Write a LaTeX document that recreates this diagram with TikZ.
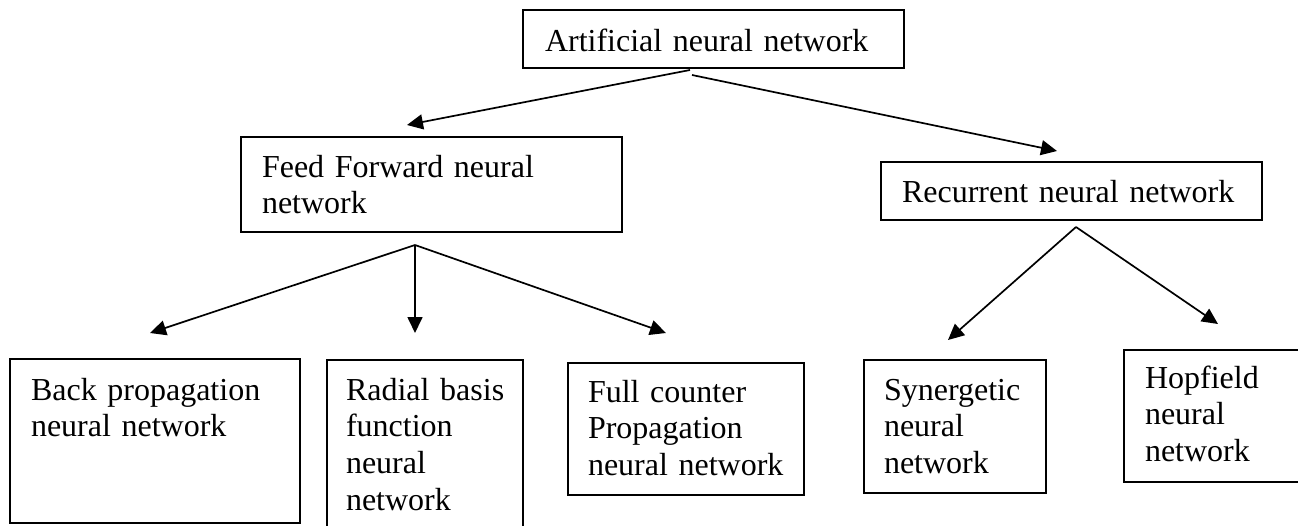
\documentclass[tikz,border=0pt]{standalone}
\usepackage{fontspec}
\setmainfont{Liberation Serif}
\usetikzlibrary{arrows.meta}
\hyphenpenalty=10000
\exhyphenpenalty=10000

\begin{document}
\begin{tikzpicture}[x=1pt,y=-1pt,
		nnbox/.style={draw,line width=1.8pt,anchor=north west,outer sep=0pt,inner ysep=0pt,
			align=left,font=\fontsize{32}{36.7}\selectfont},
		link/.style={line width=1.7pt,-{Triangle[length=16pt,width=15pt]}}]
	\useasboundingbox (0,0) rectangle (1298,525);
	% top level
	\node[nnbox,inner xsep=22pt,text width=337pt,text height=41pt,text depth=17pt] (ann) at (523,10) {Artificial neural network};
	\node[nnbox,inner xsep=21pt,text width=339pt,text height=40pt,text depth=55pt] (ffnn) at (241,137) {Feed Forward neural\\network};
	\node[nnbox,inner xsep=21pt,text width=339pt,text height=40pt,text depth=18pt] (rnn) at (881,162) {Recurrent neural network};
	% leaves
	\node[nnbox,inner xsep=21pt,text width=248pt,text height=41pt,text depth=123pt] (bpnn) at (10,359) {Back propagation\\neural network};
	\node[nnbox,inner xsep=19pt,text width=158pt,text height=40pt,text depth=140pt] (rbfnn) at (327,360) {Radial~basis\\function\\neural\\network};
	\node[nnbox,inner xsep=20pt,text width=196pt,text height=39pt,text depth=93pt] (fcpnn) at (568,363) {Full counter\\Propagation\\neural~network};
	\node[nnbox,inner xsep=20pt,text width=142pt,text height=40pt,text depth=93pt] (synnn) at (864,360) {Synergetic\\neural\\network};
	\node[nnbox,inner xsep=21pt,text width=144pt,text height=38pt,text depth=94pt] (hopnn) at (1124,350) {Hopfield\\neural\\network};
	% arrow ends
	\coordinate (ann-l) at (690,70);
	\coordinate (ann-r) at (692,75);
	\coordinate (ffnn-in) at (407,125);
	\coordinate (rnn-in) at (1057,151);
	\coordinate (ffnn-out) at (415,245);
	\coordinate (rnn-out) at (1076,227);
	\coordinate (bpnn-in) at (150,333);
	\coordinate (rbfnn-in) at (415,333);
	\coordinate (fcpnn-in) at (666,333);
	\coordinate (synnn-in) at (948,340);
	\coordinate (hopnn-in) at (1218,324);
	\draw[link] (ann-l) -- (ffnn-in);
	\draw[link] (ann-r) -- (rnn-in);
	\draw[link] (ffnn-out) -- (bpnn-in);
	\draw[link] (ffnn-out) -- (rbfnn-in);
	\draw[link] (ffnn-out) -- (fcpnn-in);
	\draw[link] (rnn-out) -- (synnn-in);
	\draw[link] (rnn-out) -- (hopnn-in);
\end{tikzpicture}
\end{document}
